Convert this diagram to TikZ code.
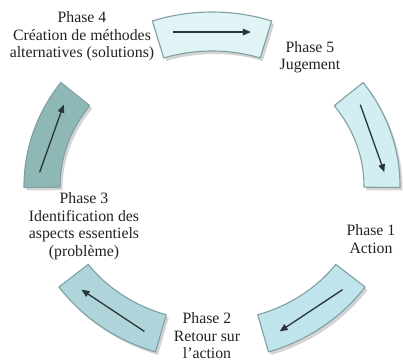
\documentclass[tikz,border=0pt]{standalone}
\usepackage{fontspec}
\setmainfont{Liberation Serif}
\usetikzlibrary{arrows.meta}
\definecolor{bandA}{HTML}{E0F4F6}
\definecolor{bandB}{HTML}{D2EEF2}
\definecolor{bandC}{HTML}{BFE4EC}
\definecolor{bandD}{HTML}{AFD5DA}
\definecolor{bandE}{HTML}{8DB8B5}
\definecolor{bandedge}{HTML}{7F9FA2}
\definecolor{txtcol}{HTML}{222222}
\definecolor{arrcol}{HTML}{2B3436}
\tikzset{
  bandfill/.style={draw=bandedge, line width=1.1pt, line join=round},
  bandshadow/.style={fill=black!30, opacity=0.55},
  flowarrow/.style={draw=arrcol, line width=1.3pt, -{Triangle[length=8pt,width=6.5pt]}},
  phaselbl/.style={align=center, text=txtcol, font=\fontsize{15.8}{17.5}\selectfont, inner sep=0pt},
}
\newcommand\ringband[3]{%
  \pgfmathsetmacro\aS{#1+18.5}%
  \pgfmathsetmacro\aE{#1-18.5}%
  \fill[bandshadow, shift={(2.5pt,-3pt)}] (\aS:188pt and 174pt)
    arc[start angle=\aS, end angle=\aE, x radius=188pt, y radius=174pt]
    -- (\aE:152pt and 135pt)
    arc[start angle=\aE, end angle=\aS, x radius=152pt, y radius=135pt] -- cycle;
  \filldraw[bandfill, fill=#2] (\aS:188pt and 174pt)
    arc[start angle=\aS, end angle=\aE, x radius=188pt, y radius=174pt]
    -- (\aE:152pt and 135pt)
    arc[start angle=\aE, end angle=\aS, x radius=152pt, y radius=135pt] -- cycle;
  \pgfmathsetmacro\bS{#1+13}%
  \pgfmathsetmacro\bE{#1-13}%
  \coordinate (#3s) at (\bS:173pt and 158pt);
  \coordinate (#3e) at (\bE:173pt and 158pt);
  \draw[flowarrow] (#3s) -- (#3e);
}
\begin{document}
\begin{tikzpicture}
\fill[white] (0,0) rectangle (403pt,363pt);
\useasboundingbox (0,0) rectangle (403pt,363pt);
\begin{scope}[shift={(212pt,177pt)}]
  \ringband{90}{bandA}{top}
  \ringband{18}{bandB}{right}
  \ringband{-54}{bandC}{botr}
  \ringband{-126}{bandD}{botl}
  \ringband{162}{bandE}{left}
\end{scope}
\node[phaselbl] (p4) at (82pt,326.5pt) {Phase 4\\Création de méthodes\\alternatives (solutions)};
\node[phaselbl] (p5) at (310pt,306pt) {Phase 5\\Jugement};
\node[phaselbl] (p1) at (371pt,124pt) {Phase 1\\Action};
\node[phaselbl] (p2) at (207pt,27pt) {Phase 2\\Retour sur\\l'action};
\node[phaselbl] (p3) at (84pt,137pt) {Phase 3\\Identification des\\aspects essentiels\\(problème)};
\end{tikzpicture}
\end{document}
